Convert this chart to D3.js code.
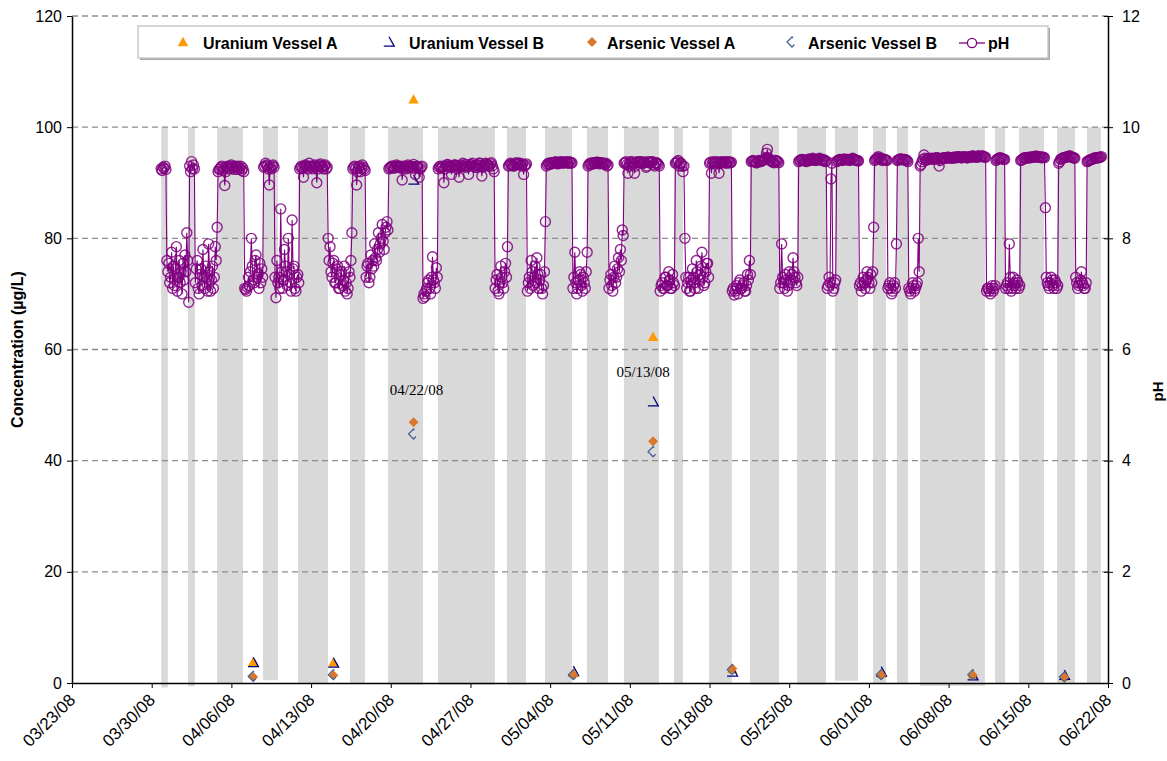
<!DOCTYPE html>
<html>
<head>
<meta charset="utf-8">
<script src="https://cdn.jsdelivr.net/npm/d3@7/dist/d3.min.js"></script>
<style>
  body { margin: 0; background: #fff; }
  text { font-family: "Liberation Sans", Arial, sans-serif; }
</style>
</head>
<body>
<div class="chart"></div>
<script>
var parse = d3.timeParse("%m/%d/%y %H:%M");

// vessel operating periods (grey columns)
var barStart = ["03/30/08 20:00","04/02/08 04:30","04/04/08 18:00","04/08/08 18:30","04/11/08 20:30","04/16/08 10:00",
  "04/19/08 18:00","04/24/08 03:30","04/30/08 05:00","05/03/08 13:00","05/07/08 05:30","05/10/08 11:30",
  "05/14/08 21:00","05/17/08 23:00","05/21/08 13:00","05/25/08 16:30","05/29/08 00:30","06/01/08 08:30",
  "06/03/08 11:00","06/05/08 11:30","06/12/08 02:00","06/14/08 04:30","06/17/08 12:30","06/20/08 03:30"];
var barEnd = ["03/31/08 10:00","04/02/08 19:00","04/07/08 00:30","04/10/08 02:00","04/14/08 11:30","04/17/08 17:30",
  "04/22/08 20:00","04/29/08 03:30","05/01/08 21:00","05/05/08 22:00","05/09/08 02:00","05/13/08 13:30",
  "05/15/08 16:00","05/19/08 23:00","05/24/08 02:30","05/28/08 05:30","05/31/08 01:00","06/02/08 12:00",
  "06/04/08 10:30","06/11/08 04:30","06/12/08 23:00","06/16/08 09:00","06/19/08 02:30","06/21/08 09:00"];
var barBase = [-0.8,-0.6,-0.1,0.5,-0.1,-0.1,-0.3,-0.3,-0.3,-0.1,-0.2,-0.3,-0.2,-0.2,-0.3,-0.3,0.4,-0.1,-0.1,-0.5,-0.2,-0.2,-0.2,-0.2];
var barTop = 100;

// lab samples (µg/L)
var sampleDates = ["04/07/08 22:00","04/14/08 23:00","04/22/08 00:00","05/06/08 01:00","05/13/08 01:00",
  "05/20/08 00:00","06/02/08 02:00","06/10/08 03:00","06/18/08 04:00"];
var uraniumA = [3.8, 3.7, 105, 1.8, 62.3, 2.5, 1.7, 1.5, 1.2];
var uraniumB = [3.7, 3.6, 90.5, 2.1, 50.6, 2.0, 2.0, 1.3, 1.4];
var arsenicA = [1.1, 1.4, 46.9, 1.4, 43.5, 2.6, 1.4, 1.4, 1.1];
var arsenicB = [1.2, 1.5, 44.8, 1.5, 41.6, 2.4, 1.5, 1.5, 1.1];

var noteDates = ["04/22/08 00:00", "05/13/08 01:00"];
var noteLevel = [51.8, 55.1];
var noteText = ["04/22/08", "05/13/08"];

// pH log, one reading every 2 hours
var phStart = "03/30/08 20:00";
var phStepHours = 2;
var phValues = [
  9.25,9.22,9.28,9.26,9.3,9.24,
  7.6,7.4,7.55,7.2,7.3,7.75,7.1,7.5,7.15,7.45,7.85,7.05,7.3,7.6,7.2,7.4,7.0,7.55,7.25,7.7,7.4,8.1,7.6,6.85,
  9.3,9.2,9.38,9.25,9.32,9.25,
  7.2,7.45,7.6,7.1,7.0,7.35,7.45,7.15,7.8,7.3,7.1,7.5,7.3,7.05,7.9,7.4,7.05,7.25,7.5,7.1,7.3,7.85,7.6,8.2,
  9.2,9.24,9.25,9.28,9.3,9.22,9.26,8.95,9.2,9.28,9.3,9.26,9.25,9.3,9.32,9.28,9.27,9.24,9.3,9.28,9.24,9.3,9.28,9.25,9.3,9.22,9.26,9.2,
  7.1,7.08,7.05,7.12,7.3,7.15,7.4,8.0,7.5,7.25,7.2,7.6,7.7,7.3,7.35,7.1,7.55,7.2,7.45,7.3,
  9.28,9.3,9.35,9.32,9.3,9.25,8.96,9.28,9.25,9.3,9.32,9.28,7.3,6.93,7.6,7.2,
  7.3,7.1,8.53,7.4,7.1,7.25,7.8,7.5,7.4,7.15,8.0,7.35,7.2,7.05,8.33,7.45,7.5,7.1,7.05,7.3,7.35,7.2,
  9.25,9.28,9.3,9.26,9.1,9.3,9.32,9.3,9.28,9.25,9.35,9.3,9.3,9.28,9.25,9.3,9.32,9.28,9.0,9.25,
  9.3,9.32,9.34,9.3,9.28,9.25,9.3,9.32,9.25,9.28,
  8.0,7.6,7.85,7.4,7.3,7.55,7.6,7.2,7.2,7.45,7.5,7.1,7.1,7.35,7.4,7.15,7.25,7.5,7.05,7.2,7.0,7.1,7.4,7.3,
  7.6,8.1,9.25,9.28,9.3,9.25,8.96,9.2,9.28,9.3,9.2,9.25,9.32,9.28,9.25,9.22,
  7.3,7.5,7.55,7.2,7.3,7.7,7.45,7.6,7.5,7.9,7.65,7.6,7.8,8.1,7.75,7.9,8.0,8.25,7.95,7.8,8.1,8.2,8.3,8.15,
  9.25,9.27,9.28,9.3,9.3,9.26,9.27,9.3,9.32,9.28,9.3,9.27,9.28,9.3,9.05,9.25,9.3,9.28,
  9.25,9.3,9.32,9.27,9.28,9.3,9.3,9.26,9.33,9.28,9.15,9.3,9.3,9.27,9.1,9.25,9.28,9.3,
  6.92,7.0,6.95,7.05,7.1,7.2,7.25,7.1,7.0,7.3,7.67,7.25,7.2,7.1,7.47,7.3,
  9.25,9.28,9.3,9.27,9.28,9.3,9.0,9.25,9.3,9.32,9.33,9.3,9.28,9.3,9.15,9.28,9.3,9.32,9.32,9.3,
  9.25,9.3,9.1,9.28,9.3,9.32,9.35,9.3,9.3,9.33,9.28,9.3,9.15,9.3,9.33,9.32,9.35,9.3,9.3,9.28,
  9.28,9.32,9.32,9.35,9.35,9.3,9.12,9.28,9.3,9.32,9.35,9.33,9.33,9.3,9.3,9.34,9.36,9.3,9.25,9.2,
  7.1,7.25,7.35,7.05,7.0,7.2,7.5,7.3,7.2,7.1,7.4,7.55,7.3,7.85,
  9.3,9.32,9.35,9.33,9.32,9.3,9.3,9.34,9.36,9.33,9.33,9.35,9.35,9.32,9.3,9.34,9.15,9.3,9.32,9.34,
  7.05,7.2,7.3,7.1,7.6,7.4,7.15,7.3,7.5,7.2,7.65,7.35,7.1,7.25,7.35,7.1,7.0,7.15,7.4,8.3,
  9.3,9.33,9.35,9.34,9.33,9.36,9.36,9.35,9.35,9.37,9.38,9.36,9.34,9.35,9.36,9.38,9.38,9.36,9.35,9.37,
  9.37,9.38,9.36,9.35,9.38,9.37,9.35,9.36,
  7.1,7.3,7.75,7.2,7.0,7.1,7.25,7.4,7.35,7.15,7.05,7.3,7.2,7.1,7.4,7.75,
  9.3,9.33,9.35,9.34,9.33,9.36,9.36,9.35,9.35,9.37,9.37,9.35,9.34,9.36,9.36,9.35,9.35,9.34,9.33,9.35,9.3,9.32,
  7.1,7.25,7.35,7.15,7.05,7.3,7.5,7.2,7.3,7.45,7.65,7.4,7.8,7.6,8.15,8.05,
  9.35,9.36,9.38,9.33,9.17,9.3,9.36,9.38,9.38,9.35,9.35,9.17,9.3,9.37,9.38,9.36,9.36,9.38,9.38,9.35,
  9.35,9.37,9.37,9.28,9.3,9.38,9.36,9.36,9.38,9.37,9.38,9.33,9.3,9.35,9.36,9.35,9.33,9.3,
  7.05,7.15,7.2,7.1,7.1,7.3,7.3,7.15,7.15,7.4,7.25,7.1,7.1,7.35,7.2,7.15,
  9.35,9.36,9.38,9.4,9.3,9.35,9.35,9.3,9.2,9.3,
  8.0,7.3,7.1,7.2,7.3,7.05,7.05,7.25,7.45,7.3,7.2,7.1,7.6,7.4,7.1,7.25,7.35,7.5,7.75,7.3,7.15,7.2,7.4,7.55,7.55,7.3,
  9.35,9.37,9.17,9.35,9.38,9.36,9.36,9.38,9.35,9.37,9.17,9.35,9.38,9.36,9.36,9.38,9.37,9.36,9.35,9.38,9.38,9.36,9.36,9.37,
  7.05,7.1,6.98,7.05,7.15,7.1,7.0,7.2,7.25,7.1,7.1,7.15,7.2,7.05,7.05,7.15,7.35,7.25,7.6,7.35,
  9.38,9.39,9.4,9.38,9.38,9.36,9.36,9.39,9.4,9.38,9.38,9.4,9.4,9.41,9.42,9.45,9.53,9.6,9.45,9.42,
  9.4,9.39,9.38,9.37,9.36,9.4,9.4,9.39,9.38,9.36,
  7.1,7.2,7.9,7.3,7.2,7.1,7.35,7.25,7.05,7.15,7.4,7.2,7.25,7.35,7.65,7.4,7.3,7.2,7.15,7.3,
  9.38,9.4,9.4,9.42,9.42,9.41,9.4,9.39,9.38,9.4,9.42,9.43,9.4,9.41,9.43,9.44,9.41,9.42,9.4,9.41,
  9.42,9.43,9.44,9.42,9.4,9.41,9.42,9.4,9.38,9.39,
  7.1,7.15,7.3,7.2,9.07,9.35,7.05,7.1,7.2,7.25,
  9.38,9.4,9.4,9.42,9.42,9.41,9.4,9.42,9.43,9.42,9.41,9.42,9.42,9.41,9.4,9.42,9.43,9.44,9.42,9.41,9.41,9.4,9.4,9.39,
  7.15,7.2,7.05,7.15,7.3,7.2,7.1,7.25,7.4,7.3,7.2,7.1,7.35,7.2,7.4,8.2,
  9.4,9.42,9.43,9.45,9.47,9.44,9.44,9.42,9.4,9.43,9.42,9.41,9.41,9.4,
  7.1,7.15,7.2,7.1,7.0,7.05,7.15,7.2,7.1,7.9,
  9.4,9.41,9.42,9.43,9.43,9.42,9.41,9.42,9.42,9.41,9.4,9.38,
  7.1,7.05,7.0,7.1,7.2,7.15,7.05,7.1,7.15,7.2,8.0,7.4,
  9.3,9.33,9.38,9.42,9.5,9.44,9.4,9.42,9.42,9.43,9.44,9.43,9.43,9.44,9.42,9.43,9.44,9.45,9.45,9.44,
  9.3,9.4,9.43,9.44,9.44,9.45,9.45,9.44,9.44,9.46,9.46,9.45,9.45,9.44,9.44,9.46,9.46,9.45,9.45,9.47,
  9.47,9.46,9.46,9.45,9.45,9.47,9.47,9.46,9.46,9.45,9.45,9.47,9.47,9.46,9.46,9.48,9.48,9.47,9.47,9.46,
  9.46,9.48,9.48,9.47,9.47,9.48,9.48,9.47,9.46,9.46,
  7.05,7.1,7.1,7.05,7.0,7.1,7.15,7.05,7.1,7.15,
  9.4,9.42,9.43,9.44,9.45,9.44,9.44,9.43,9.42,9.42,
  7.1,7.15,7.2,7.1,7.9,7.3,7.05,7.1,7.3,7.2,7.15,7.1,7.25,7.2,7.1,7.15,
  9.4,9.41,9.42,9.44,9.45,9.44,9.44,9.45,9.46,9.45,9.45,9.46,9.47,9.46,9.46,9.47,9.48,9.47,9.46,9.47,
  9.47,9.46,9.45,9.46,9.46,9.45,
  8.55,7.3,7.2,7.15,7.1,7.2,7.3,7.25,7.15,7.1,7.25,7.2,7.1,7.15,
  9.35,9.38,9.42,9.43,9.44,9.45,9.45,9.46,9.46,9.47,9.47,9.48,9.48,9.47,9.46,9.45,9.45,9.44,
  7.3,7.2,7.1,7.15,7.2,7.25,7.4,7.2,7.15,7.1,7.1,7.2,
  9.38,9.39,9.4,9.41,9.42,9.42,9.43,9.44,9.44,9.45,9.45,9.45,9.45,9.46,9.46,9.47
];

var width = 1167, height = 761;
var plotLeft = 72, plotRight = 1108, plotTop = 16, plotBottom = 683;

var svg = d3.select(".chart").append("svg")
  .attr("width", width)
  .attr("height", height);

var x = d3.scaleTime()
  .domain([parse("03/23/08 00:00"), parse("06/22/08 00:00")])
  .range([plotLeft, plotRight]);
var y = d3.scaleLinear().domain([0, 120]).range([plotBottom, plotTop]);
var y2 = d3.scaleLinear().domain([0, 12]).range([plotBottom, plotTop]);

// grey operating columns
svg.append("g").selectAll("rect")
  .data(barStart)
  .enter().append("rect")
  .attr("x", function(d) { return x(parse(d)); })
  .attr("width", function(d, i) { return x(parse(barEnd[i])) - x(parse(d)); })
  .attr("y", y(barTop))
  .attr("height", function(d, i) { return y(barBase[i]) - y(barTop); })
  .attr("fill", "#d9d9d9");

// dashed gridlines
svg.append("g").selectAll("line")
  .data(d3.range(20, 121, 20))
  .enter().append("line")
  .attr("x1", plotLeft).attr("x2", plotRight)
  .attr("y1", function(d) { return y(d); })
  .attr("y2", function(d) { return y(d); })
  .attr("stroke", "#8c8c8c")
  .attr("stroke-width", 1.3)
  .attr("stroke-dasharray", "6,4");

// marker shapes
function triangle(s) { return "M0," + (-s) + "L" + s + "," + (s * 0.8) + "L" + (-s) + "," + (s * 0.8) + "Z"; }
function triangleOpen(s) { return "M0," + (-s) + "L" + s + "," + (s * 0.8) + "L" + (-s) + "," + (s * 0.8); }
function diamond(s) { return "M0," + (-s) + "L" + s + ",0L0," + s + "L" + (-s) + ",0Z"; }
function diamondOpen(s) { return "M" + (s * 0.2) + "," + (-s * 0.8) + "L0," + (-s) + "L" + (-s) + ",0L0," + s + "L" + (s * 0.5) + "," + (s * 0.5); }

var series = [
  {values: uraniumA, path: triangle(5.2), fill: "#ff9900", stroke: "none"},
  {values: uraniumB, path: triangleOpen(5.2), fill: "none", stroke: "#000080"},
  {values: arsenicA, path: diamond(5), fill: "#d9782d", stroke: "none"},
  {values: arsenicB, path: diamondOpen(5), fill: "none", stroke: "#466496"}
];

series.forEach(function(s) {
  svg.append("g").selectAll("path")
    .data(s.values)
    .enter().append("path")
    .attr("d", s.path)
    .attr("transform", function(d, i) { return "translate(" + x(parse(sampleDates[i])) + "," + y(d) + ")"; })
    .attr("fill", s.fill)
    .attr("stroke", s.stroke)
    .attr("stroke-width", 1.3);
});

// sample date notes
svg.append("g").selectAll("text")
  .data(noteText)
  .enter().append("text")
  .attr("x", function(d, i) { return x(parse(noteDates[i])) + (i == 0 ? 3 : -10); })
  .attr("y", function(d, i) { return y(noteLevel[i]); })
  .attr("text-anchor", "middle")
  .style("font-family", "'Liberation Serif', 'Times New Roman', serif")
  .style("font-size", "15px")
  .text(function(d) { return d; });

// pH series
var t0 = parse(phStart);
var phPoints = phValues.map(function(v, i) {
  return {t: d3.timeHour.offset(t0, i * phStepHours), v: v};
});

var line = d3.line()
  .x(function(d) { return x(d.t); })
  .y(function(d) { return y2(d.v); });

svg.append("path")
  .datum(phPoints)
  .attr("d", line)
  .attr("fill", "none")
  .attr("stroke", "#800080")
  .attr("stroke-width", 1.1);

svg.append("g").selectAll("circle")
  .data(phPoints)
  .enter().append("circle")
  .attr("cx", function(d) { return x(d.t); })
  .attr("cy", function(d) { return y2(d.v); })
  .attr("r", 5)
  .attr("fill", "none")
  .attr("stroke", "#800080")
  .attr("stroke-opacity", 0.85)
  .attr("stroke-width", 1.4);

// axes
var xAxis = d3.axisBottom(x)
  .ticks(d3.timeWeek.every(1))
  .tickFormat(d3.timeFormat("%m/%d/%y"))
  .tickSize(5).tickSizeOuter(0);

var gx = svg.append("g")
  .attr("transform", "translate(0," + plotBottom + ")")
  .call(xAxis);
gx.selectAll("text")
  .attr("x", 0).attr("y", 0).attr("dy", 0)
  .attr("transform", "translate(4,18) rotate(-45)")
  .style("text-anchor", "end")
  .style("font-size", "17px")
  .attr("fill", "#000");

var gy = svg.append("g")
  .attr("transform", "translate(" + plotLeft + ",0)")
  .call(d3.axisLeft(y).tickValues(d3.range(0, 121, 20)).tickSize(5).tickSizeOuter(0).tickPadding(5));
gy.selectAll("text").style("font-size", "16px").attr("fill", "#000");

var gy2 = svg.append("g")
  .attr("transform", "translate(" + plotRight + ",0)")
  .call(d3.axisRight(y2).tickValues(d3.range(0, 13, 2)).tickSize(5).tickSizeOuter(0).tickPadding(9));
gy2.selectAll("text").style("font-size", "16px").attr("fill", "#000");
gy2.selectAll(".tick").append("line").attr("x1", -4).attr("x2", 0).attr("stroke", "#000");

svg.selectAll(".domain").attr("stroke", "#000").attr("stroke-width", 1.5);

// axis titles
svg.append("text")
  .attr("transform", "translate(23," + ((plotTop + plotBottom) / 2) + ") rotate(-90)")
  .attr("text-anchor", "middle")
  .style("font-size", "16px")
  .style("font-weight", "bold")
  .text("Concentration  (µg/L)");

svg.append("text")
  .attr("transform", "translate(1163," + ((plotTop + plotBottom) / 2 + 42) + ") rotate(-90)")
  .attr("text-anchor", "middle")
  .style("font-size", "15px")
  .style("font-weight", "bold")
  .text("pH");

// legend
var legend = svg.append("g");
legend.append("rect")
  .attr("x", 140).attr("y", 28).attr("width", 910).attr("height", 32)
  .attr("fill", "#a6a6a6");
legend.append("rect")
  .attr("x", 138).attr("y", 26).attr("width", 910).attr("height", 32)
  .attr("fill", "#fff").attr("stroke", "#c8c8c8").attr("stroke-width", 1.5);

var legendItems = [
  {label: "Uranium Vessel A", mx: 183, tx: 203, s: series[0]},
  {label: "Uranium Vessel B", mx: 389, tx: 409, s: series[1]},
  {label: "Arsenic Vessel A", mx: 592, tx: 607, s: series[2]},
  {label: "Arsenic Vessel B", mx: 792, tx: 808, s: series[3]},
  {label: "pH", mx: 972, tx: 988, s: null}
];

legendItems.forEach(function(d) {
  if (d.s) {
    legend.append("path")
      .attr("d", d.s.path)
      .attr("transform", "translate(" + d.mx + ",42)")
      .attr("fill", d.s.fill)
      .attr("stroke", d.s.stroke)
      .attr("stroke-width", 1.3);
  } else {
    legend.append("line")
      .attr("x1", d.mx - 13).attr("x2", d.mx + 13)
      .attr("y1", 43).attr("y2", 43)
      .attr("stroke", "#800080").attr("stroke-width", 1.3);
    legend.append("circle")
      .attr("cx", d.mx).attr("cy", 43).attr("r", 4.6)
      .attr("fill", "#fff").attr("stroke", "#800080").attr("stroke-width", 1.3);
  }
  legend.append("text")
    .attr("x", d.tx).attr("y", 49)
    .style("font-size", "16px")
    .style("font-weight", "bold")
    .text(d.label);
});
</script>
</body>
</html>
